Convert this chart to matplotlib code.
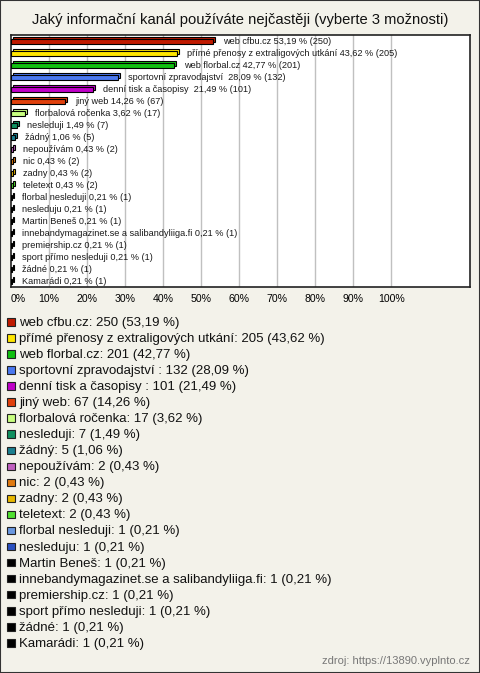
import matplotlib
matplotlib.use("Agg")
import matplotlib.pyplot as plt
import matplotlib.transforms as mtransforms
from matplotlib.patches import Rectangle

plt.rcParams['font.family'] = ['Liberation Sans', 'DejaVu Sans']

title = "Jaký informační kanál používáte nejčastěji (vyberte 3 možnosti)"
source = "zdroj: https://13890.vyplnto.cz"

categories = [
    "web cfbu.cz", "přímé přenosy z extraligových utkání", "web florbal.cz",
    "sportovní zpravodajství ", "denní tisk a časopisy ", "jiný web",
    "florbalová ročenka", "nesleduji", "žádný", "nepoužívám", "nic", "zadny",
    "teletext", "florbal nesleduji", "nesleduju", "Martin Beneš",
    "innebandymagazinet.se a salibandyliiga.fi", "premiership.cz",
    "sport přímo nesleduji", "žádné", "Kamarádi",
]
counts = [250, 205, 201, 132, 101, 67, 17, 7, 5, 2, 2, 2, 2,
          1, 1, 1, 1, 1, 1, 1, 1]
percents = [53.19, 43.62, 42.77, 28.09, 21.49, 14.26, 3.62, 1.49, 1.06,
            0.43, 0.43, 0.43, 0.43, 0.21, 0.21, 0.21, 0.21, 0.21, 0.21,
            0.21, 0.21]
colors = [
    "#c01a00", "#ffe600", "#10c010", "#4a78f0", "#c000c8", "#e0400c",
    "#c8ff80", "#109060", "#1a7f90", "#c060c0", "#e07a10", "#e8b800",
    "#50e030", "#6a98e0", "#2a50c0", "#000000", "#000000", "#000000",
    "#000000", "#000000", "#000000",
]
xticks = [0, 10, 20, 30, 40, 50, 60, 70, 80, 90, 100]

W, H = 480, 673
BG = "#f3f2ea"


def pct(v):
    return f"{v:.2f}".replace(".", ",")


def fx(px):
    return px / W


def fy(py):
    return 1 - py / H


fig = plt.figure(figsize=(W / 100, H / 100), dpi=100, facecolor=BG)

# outer frame
fig.patches.append(Rectangle((0, 0), 1, 1, transform=fig.transFigure,
                             fill=False, edgecolor="#333333", lw=1.5))

fig.text(0.5, fy(20), title, ha="center", va="center", fontsize=10.6,
         color="#111111")

ax = fig.add_axes([fx(11), fy(287), fx(470 - 11), (287 - 35) / H])
ax.set_facecolor("white")
ax.set_xlim(0, 120.7)
ax.set_ylim(20.46, -0.54)
for x in xticks[1:]:
    ax.axvline(x, color="#c0c0c0", lw=1, zorder=1)

ypos = list(range(len(categories)))
back = mtransforms.offset_copy(ax.transData, fig=fig, x=2, y=2, units="dots")
ax.barh(ypos, percents, height=0.38, color=colors, edgecolor="black",
        lw=0.8, transform=back, zorder=2)
ax.barh(ypos, percents, height=0.38, color=colors, edgecolor="black",
        lw=0.8, zorder=3)

lbl = mtransforms.offset_copy(ax.transData, fig=fig, x=10, y=0, units="dots")
for y, cat, p, c in zip(ypos, categories, percents, counts):
    ax.text(p, y, f"{cat} {pct(p)} % ({c})", transform=lbl, ha="left",
            va="center", fontsize=6.6, color="#1a1a1a", zorder=4)

ax.set_xticks(xticks)
ax.set_xticklabels([f"{t}%" for t in xticks], fontsize=7.6)
ax.get_xticklabels()[0].set_ha("left")
ax.tick_params(axis="x", length=0, pad=5)
ax.set_yticks([])
for s in ax.spines.values():
    s.set_color("#222222")
    s.set_linewidth(1.2)

# legend
for i, (cat, p, c, col) in enumerate(zip(categories, percents, counts,
                                         colors)):
    yc = 321 + i * 16.05
    fig.patches.append(Rectangle((fx(7), fy(yc + 4.6)), fx(7.5), 7.5 / H,
                                 transform=fig.transFigure, facecolor=col,
                                 edgecolor="#222222", lw=0.8))
    fig.text(fx(19), fy(yc + 4.8), f"{cat}: {c} ({pct(p)} %)", ha="left",
             va="baseline", fontsize=9.55, color="#111111")

fig.text(fx(470), fy(661.5), source, ha="right", va="center", fontsize=8,
         color="#777777")

fig.savefig("out.png", dpi=100, facecolor=BG)
